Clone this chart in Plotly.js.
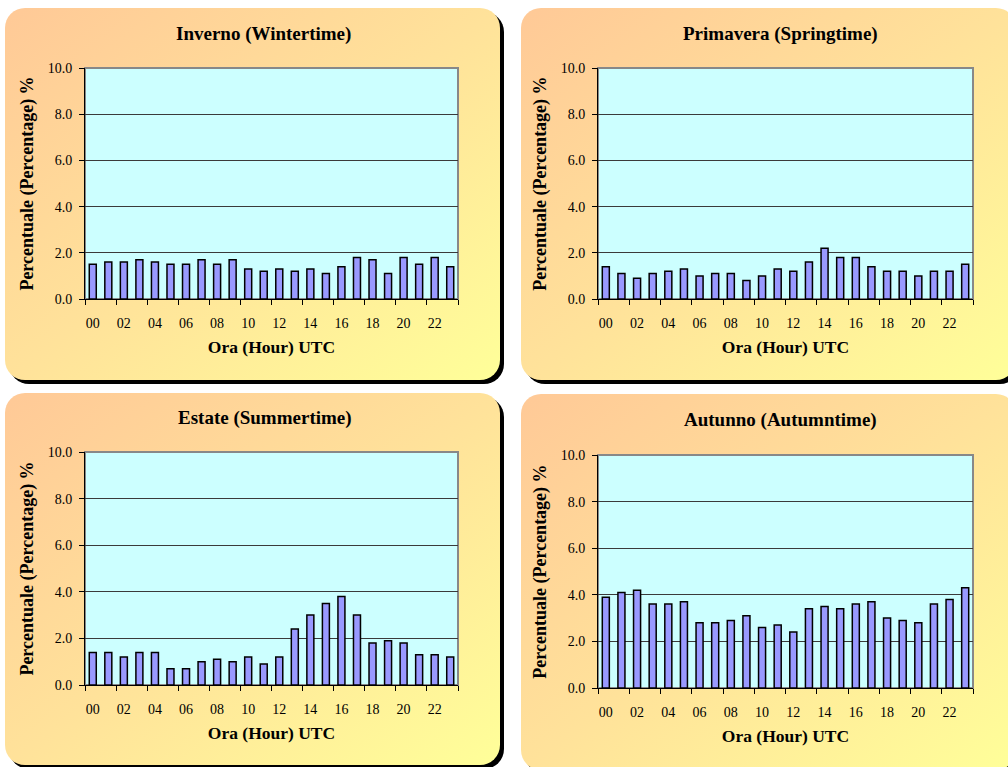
<!DOCTYPE html>
<html>
<head>
<meta charset="utf-8">
<script src="https://cdn.plot.ly/plotly-3.0.1.min.js"></script>
<style>html,body{margin:0;padding:0;background:#fff}#chart{width:1008px;height:767px}</style>
</head>
<body>
<div id="chart"></div>
<script>
// ---- data ----
const hours = ['00','01','02','03','04','05','06','07','08','09','10','11','12','13','14','15','16','17','18','19','20','21','22','23'];
const winter = [1.5,1.6,1.6,1.7,1.6,1.5,1.5,1.7,1.5,1.7,1.3,1.2,1.3,1.2,1.3,1.1,1.4,1.8,1.7,1.1,1.8,1.5,1.8,1.4];
const spring = [1.4,1.1,0.9,1.1,1.2,1.3,1.0,1.1,1.1,0.8,1.0,1.3,1.2,1.6,2.2,1.8,1.8,1.4,1.2,1.2,1.0,1.2,1.2,1.5];
const summer = [1.4,1.4,1.2,1.4,1.4,0.7,0.7,1.0,1.1,1.0,1.2,0.9,1.2,2.4,3.0,3.5,3.8,3.0,1.8,1.9,1.8,1.3,1.3,1.2];
const autumn = [3.9,4.1,4.2,3.6,3.6,3.7,2.8,2.8,2.9,3.1,2.6,2.7,2.4,3.4,3.5,3.4,3.6,3.7,3.0,2.9,2.8,3.6,3.8,4.3];
const panelTitles = ['Inverno (Wintertime)','Primavera (Springtime)','Estate (Summertime)','Autunno (Autumntime)'];
const xTitle = 'Ora (Hour) UTC';
const yTitle = 'Percentuale (Percentage) %';
const series = [winter, spring, summer, autumn];

// ---- geometry (pixels in a 1008x767 page) ----
const W = 1008, H = 767;
const plots = [ // plot-area boxes: left, right, top, bottom
  {l:85, r:458, t:68, b:299},
  {l:598, r:973, t:68, b:299},
  {l:85, r:458, t:452, b:685},
  {l:598, r:973, t:455, b:688}
];
const panels = [ // rounded panel boxes: left, top, width, height
  {x:5, y:8, w:495, h:372},
  {x:521, y:8, w:495, h:372},
  {x:5, y:393, w:495, h:372},
  {x:521, y:394, w:495, h:376}
];
const titlePos = [{x:263, y:34},{x:780, y:34},{x:265, y:418},{x:780, y:420}];

const FONT = '"Liberation Serif", "Times New Roman", serif';

function panelSVG(w, h) {
  const s = 4;
  const svg = `<svg xmlns="http://www.w3.org/2000/svg" width="${w+s+1}" height="${h+s+1}" viewBox="0 0 ${w+s+1} ${h+s+1}">
<defs><linearGradient id="g" x1="0" y1="0" x2="1" y2="1">
<stop offset="0" stop-color="#FFC997"/><stop offset="0.5" stop-color="#FFE29A"/><stop offset="1" stop-color="#FFFF99"/>
</linearGradient></defs>
<rect x="${s}" y="${s}" width="${w}" height="${h}" rx="20" ry="20" fill="#000"/>
<rect x="0" y="0" width="${w}" height="${h}" rx="20" ry="20" fill="url(#g)"/>
</svg>`;
  return 'data:image/svg+xml;charset=utf-8,' + encodeURIComponent(svg);
}

const traces = [];
const layout = {
  width: W, height: H,
  margin: {l:0, r:0, t:0, b:0, pad:0},
  paper_bgcolor: '#FFFFFF',
  plot_bgcolor: 'rgba(0,0,0,0)',
  showlegend: false,
  bargap: 0.55,
  font: {family: FONT, color: '#000', size: 14},
  images: [],
  shapes: [],
  annotations: []
};

for (let i = 0; i < 4; i++) {
  const sfx = i === 0 ? '' : String(i + 1);
  const p = plots[i];
  traces.push({
    type: 'bar',
    x: hours,
    y: series[i],
    xaxis: 'x' + sfx,
    yaxis: 'y' + sfx,
    marker: {color: '#9999FF', line: {color: '#000000', width: 1.5}},
    hovertemplate: '%{x}: %{y:.1f}%<extra></extra>'
  });
  layout['xaxis' + sfx] = {
    domain: [p.l / W, p.r / W],
    anchor: 'y' + sfx,
    type: 'category',
    range: [-0.5, 23.5],
    tickson: 'boundaries',
    dtick: 2,
    tickangle: 0,
    ticks: 'outside',
    ticklen: 5,
    tickwidth: 1,
    tickcolor: '#000',
    ticklabelstandoff: 11,
    showline: true,
    linecolor: '#000',
    linewidth: 1,
    showgrid: false,
    zeroline: false,
    fixedrange: true,
    tickfont: {family: FONT, size: 14, color: '#000'},
    title: {text: xTitle, font: {family: FONT, size: 17.5, color: '#000', weight: 'bold'}, standoff: 10}
  };
  layout['yaxis' + sfx] = {
    domain: [1 - p.b / H, 1 - p.t / H],
    anchor: 'x' + sfx,
    range: [0, 10],
    tick0: 0,
    dtick: 2,
    tickformat: '.1f',
    ticks: 'outside',
    ticklen: 5,
    tickwidth: 1,
    tickcolor: '#000',
    ticklabelstandoff: 4,
    showline: true,
    linecolor: '#000',
    linewidth: 1,
    showgrid: true,
    gridcolor: '#3a3a3a',
    gridwidth: 1,
    zeroline: false,
    fixedrange: true,
    tickfont: {family: FONT, size: 14, color: '#000'},
    title: {text: yTitle, font: {family: FONT, size: 18, color: '#000', weight: 'bold'}, standoff: 9}
  };
  layout.shapes.push({
    type: 'rect', layer: 'below',
    xref: 'x' + sfx + ' domain', yref: 'y' + sfx + ' domain',
    x0: 0, x1: 1, y0: 0, y1: 1,
    fillcolor: '#CCFFFF',
    line: {color: '#888888', width: 2}
  });
  const pn = panels[i];
  layout.images.push({
    source: panelSVG(pn.w, pn.h),
    xref: 'paper', yref: 'paper',
    x: pn.x / W, y: 1 - pn.y / H,
    sizex: (pn.w + 5) / W, sizey: (pn.h + 5) / H,
    xanchor: 'left', yanchor: 'top',
    sizing: 'stretch', layer: 'below'
  });
  layout.annotations.push({
    text: panelTitles[i],
    xref: 'paper', yref: 'paper',
    x: titlePos[i].x / W, y: 1 - titlePos[i].y / H,
    xanchor: 'center', yanchor: 'middle',
    showarrow: false,
    font: {family: FONT, size: 19, color: '#000', weight: 'bold'}
  });
}

Plotly.newPlot('chart', traces, layout, {displayModeBar: false, staticPlot: true});
</script>
</body>
</html>
